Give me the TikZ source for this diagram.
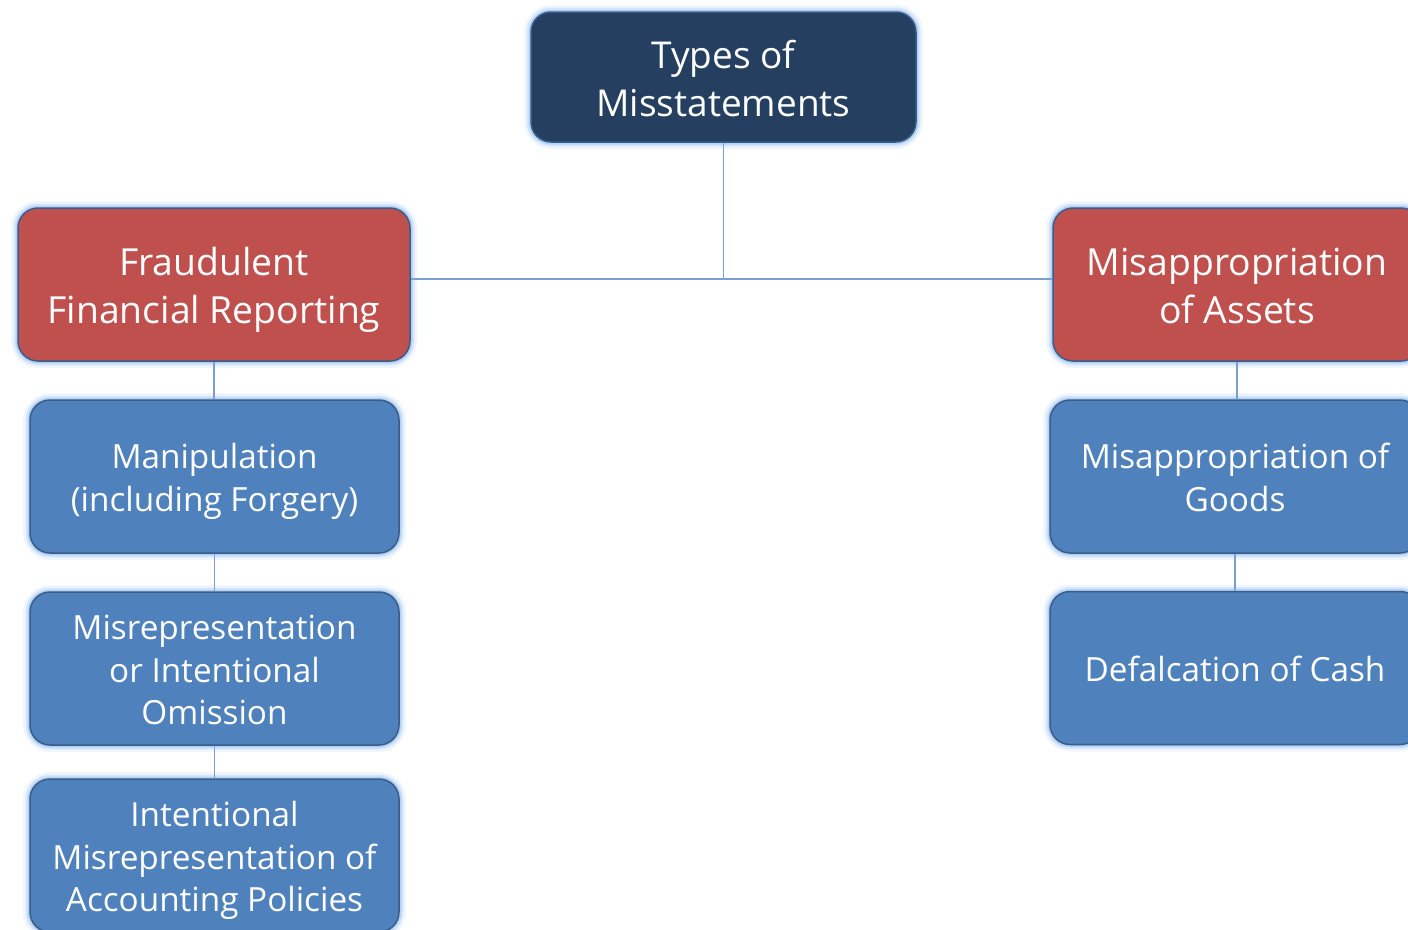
\documentclass[tikz,border=0pt]{standalone}
\usepackage{fontspec}
\setmainfont{Open Sans}
\definecolor{navy}{HTML}{243F60}
\definecolor{redf}{HTML}{C0504D}
\definecolor{bluef}{HTML}{4F81BD}
\definecolor{edgec}{HTML}{385D8A}
\definecolor{glowc}{HTML}{9DC3F0}
\definecolor{linec}{HTML}{7B9FD0}
\tikzset{
  box/.style={rounded corners=20pt, draw=edgec, line width=1.5pt, inner sep=0pt, align=center, text=white,
    preaction={draw=glowc, line width=14pt, opacity=0.15},
    preaction={draw=glowc, line width=9pt, opacity=0.3},
    preaction={draw=glowc, line width=5pt, opacity=0.6}},
  topbox/.style={box, fill=navy, minimum width=385pt, minimum height=130pt,
    font=\fontsize{37}{48}\selectfont, text height=87.4pt, text depth=8.6pt},
  redbox/.style={box, fill=redf, minimum height=153pt,
    font=\fontsize{37.3}{48}\selectfont, text height=87.4pt, text depth=8.6pt},
  bluebox/.style={box, fill=bluef, minimum width=369pt, minimum height=153pt,
    font=\fontsize{33.3}{42.5}\selectfont, text depth=7.6pt},
  oneline/.style={text height=34.9pt},
  twolines/.style={text height=77.4pt},
  threelines/.style={text height=119.9pt},
  conn/.style={draw=linec, line width=1.3pt},
  hconn/.style={draw=linec, line width=1.8pt}
}
\begin{document}
\begin{tikzpicture}[x=1pt,y=-1pt]
\useasboundingbox (0,0) rectangle (1408,929);
\clip (0,0) rectangle (1408,929);
\node[topbox] (top) at (723.5,77) {Types of\\Misstatements};
\node[redbox, minimum width=392pt] (fr) at (214,284.5) {Fraudulent\\Financial Reporting};
\node[redbox, minimum width=368pt] (ma) at (1237,284.5) {Misappropriation\\of Assets};
\node[bluebox, twolines] (m1) at (214.5,476.5) {Manipulation\\(including Forgery)};
\node[bluebox, threelines] (m2) at (214.5,668.5) {Misrepresentation\\or Intentional\\Omission};
\node[bluebox, threelines] (m3) at (214.5,855.5) {Intentional\\Misrepresentation of\\Accounting Policies};
\node[bluebox, twolines, minimum width=370pt] (g1) at (1235,476.5) {Misappropriation of\\Goods};
\node[bluebox, oneline, minimum width=370pt] (g2) at (1235,668) {Defalcation of Cash};
\coordinate (hj) at (723.5,279);
\draw[hconn] (fr.east |- hj) -- (ma.west |- hj);
\draw[conn] (top.south) -- (hj);
\draw[conn] (fr.south) -- (fr.south |- m1.north);
\draw[conn] (m1.south) -- (m1.south |- m2.north);
\draw[conn] (m2.south) -- (m2.south |- m3.north);
\draw[conn] (ma.south) -- (ma.south |- g1.north);
\draw[conn] (g1.south) -- (g1.south |- g2.north);
\end{tikzpicture}
\end{document}
